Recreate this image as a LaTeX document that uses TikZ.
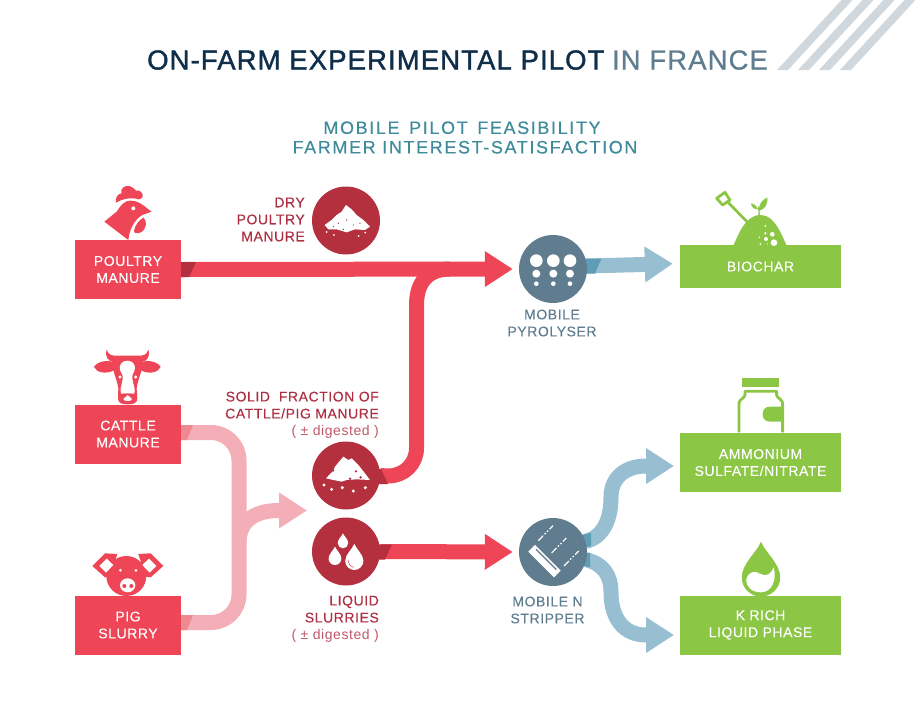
\documentclass[tikz,border=0pt]{standalone}
\usepackage{fontspec}
\setmainfont{Liberation Sans}
\newfontfamily\titlefont[LetterSpace=4,FakeBold=1.4]{Liberation Sans}
\newfontfamily\plainfont[LetterSpace=4]{Liberation Sans}
\newfontfamily\fadefont[LetterSpace=4,FakeBold=0.7]{Liberation Sans}
\newfontfamily\subfont[LetterSpace=9,FakeBold=0.4]{Liberation Sans}
\newfontfamily\boxfont[LetterSpace=4,FakeBold=0.15]{Liberation Sans}
\definecolor{farmnavy}{RGB}{15, 46, 74}
\definecolor{farmslate}{RGB}{96, 125, 144}
\definecolor{farmteal}{RGB}{62, 140, 154}
\definecolor{hatchgrey}{RGB}{208, 216, 222}
\definecolor{boxred}{RGB}{238, 69, 87}
\definecolor{deepred}{RGB}{181, 48, 63}
\definecolor{softred}{RGB}{244, 174, 183}
\definecolor{softdark}{RGB}{238, 138, 143}
\definecolor{labelred}{RGB}{174, 46, 66}
\definecolor{boxgreen}{RGB}{140, 198, 69}
\definecolor{pipeblue}{RGB}{152, 191, 209}
\definecolor{pipedark}{RGB}{95, 157, 182}
\usepackage{tikz}
\usetikzlibrary{arrows.meta, backgrounds}
\newcommand{\dropshape}{(0,0) .. controls (0.08,0.2) and (0.35,0.4) .. (0.35,0.65) .. controls (0.35,0.85) and (0.18,1) .. (0,1) .. controls (-0.18,1) and (-0.35,0.85) .. (-0.35,0.65) .. controls (-0.35,0.4) and (-0.08,0.2) .. (0,0) -- cycle}
\tikzset{
  sourcebox/.style={fill=boxred, text=white, minimum width=106pt, minimum height=59pt, inner sep=0pt, align=center, font=\boxfont\fontsize{14}{17}\selectfont},
  productbox/.style={fill=boxgreen, text=white, minimum width=161pt, inner sep=0pt, align=center, font=\boxfont\fontsize{14}{17}\selectfont},
  redcircle/.style={circle, fill=deepred, minimum size=68pt, inner sep=0pt},
  slatecircle/.style={circle, fill=farmslate, minimum size=68pt, inner sep=0pt},
  redlabel/.style={text=labelred, inner sep=0pt, align=right, font=\boxfont\fontsize{14}{17}\selectfont},
  slatelabel/.style={text=farmslate, inner sep=0pt, align=center, font=\boxfont\fontsize{14}{17}\selectfont},
  redpipe/.style={draw=boxred, line width=15pt},
  softpipe/.style={draw=softred, line width=15pt},
  bluepipe/.style={draw=pipeblue, line width=15pt},
  bigtip/.style={-{Triangle[length=28pt,width=34pt]}},
}

\begin{document}
\begin{tikzpicture}[x=1pt, y=-1pt]
  \useasboundingbox (0,0) rectangle (915,726);

  % Heading
  \foreach \x in {777, 798, 819, 840} {
    \fill[hatchgrey] (\x,70) -- (\x+64.5,0) -- (\x+75.5,0) -- (\x+11,70) -- cycle;
  }
  \node[anchor=base west, inner sep=0pt, font=\fontsize{27.5}{32}\selectfont] (heading) at (147,69.5) {{\titlefont\color{farmnavy}ON-FARM EXPERIMENTAL PILOT} {\fadefont\color{farmslate}IN FRANCE}};
  \node[text=farmteal, inner sep=0pt, align=center, font=\subfont\fontsize{18}{19.5}\selectfont] (subheading) at (465,137.5) {MOBILE\kern3pt{} PILOT\kern3pt{} FEASIBILITY\kern6pt\\FARMER INTEREST-SATISFACTION};

  % Sources
  \node[sourcebox] (poultry) at (128,269.5) {POULTRY\\MANURE};
  \node[sourcebox] (cattle) at (128,434) {CATTLE\\MANURE};
  \node[sourcebox] (pig) at (128,625) {PIG\\SLURRY};

  % Products
  \node[productbox, minimum height=43pt] (biochar) at (760.5,266.5) {BIOCHAR};
  \node[productbox, minimum height=59pt] (ammonium) at (760.5,462.5) {AMMONIUM\\SULFATE/NITRATE};
  \node[productbox, minimum height=59pt] (krich) at (760.5,625) {K RICH\\LIQUID PHASE};

  % Fractions and machines
  \node[redcircle] (dry) at (346,220.5) {};
  \node[redcircle] (solid) at (346,475.5) {};
  \node[redcircle] (liquid) at (346,551.5) {};
  \node[slatecircle] (pyrolyser) at (553,269) {};
  \node[slatecircle] (stripper) at (553,552) {};

  % Labels
  \node[redlabel, anchor=east] (drylabel) at (305,219.5) {DRY\\POULTRY\\MANURE};
  \node[redlabel, anchor=east] (solidlabel) at (379,415) {SOLID\ \ FRACTION OF\\CATTLE/PIG MANURE\\{\color{labelred!80}\plainfont ( ± digested )}};
  \node[redlabel, anchor=east] (liquidlabel) at (379,619) {LIQUID\\SLURRIES\\{\color{labelred!80}\plainfont ( ± digested )}};
  \node[slatelabel] (pyrolyserlabel) at (552,323) {MOBILE\\PYROLYSER};
  \node[slatelabel] (stripperlabel) at (547.5,610) {MOBILE N\\STRIPPER};

  % Named ends of the pipes
  \coordinate (softfork) at (239,540);
  \coordinate (softend) at (307,510.5);
  \coordinate (redjoin) at (450,269);

  \begin{scope}[on background layer]
    \draw[softpipe, rounded corners=28pt] ([yshift=1.5pt]cattle.east) -- (239,432.5) -- (239,622.5) -- ([yshift=2.5pt]pig.east);
    \draw[softpipe, bigtip] (softfork) .. controls (240,525) and (250,510.5) .. (279,510.5) -- (softend);
    \draw[redpipe] (solid.east) -- (388,476) .. controls (404,476) and (416.5,464) .. (416.5,448) -- (416.5,305) .. controls (416.5,282) and (428,269) .. (redjoin);
    \draw[redpipe, bigtip, shorten >=6pt] (poultry.east) -- (pyrolyser.west);
    \draw[redpipe, bigtip, shorten >=6pt] (liquid.east) -- (stripper.west);
    \draw[bluepipe, bigtip, shorten >=7pt] ([yshift=3pt]pyrolyser.east) -- ([yshift=3pt]biochar.west);
    \draw[bluepipe, bigtip] (stripper.18) .. controls (603,537) and (611,520) .. (611,497) .. controls (611,478) and (625,466) .. (646,466) -- (674,466);
    \draw[bluepipe, bigtip] (stripper.-13) .. controls (603,564) and (611,575) .. (611,592) .. controls (611,620) and (625,635) .. (646,635) -- (674,635);

    % Darker pipe starts
    \foreach \x/\y/\wt/\wb/\col in {181/262/15/8/deepred, 181/425/12/6/softdark, 181/615/12/6/softdark, 372/544.5/20/13/deepred} {
      \fill[\col] (\x,\y) -- ++(\wt,0) -- (\x+\wb,\y+15) -- (\x,\y+15) -- cycle;
    }
    \fill[deepred] (372,469) -- (381,469) -- (388,484) -- (372,484) -- cycle;
    \fill[pipedark] (580,258.5) -- (601.5,258.5) -- (595,273.5) -- (580,273.5) -- cycle;
    \fill[pipedark] (575,536) -- (591,533) -- (591,546) -- (575,550) -- cycle;
    \fill[pipedark] (575,551) -- (590,553) -- (590,567) -- (575,565) -- cycle;
  \end{scope}

  % Hen
  \begin{scope}[shift={(60,170)}, scale=0.3333]
    \fill[boxred] (168,98) .. controls (165,85) and (172,72) .. (184,70) .. controls (180,55) and (195,45) .. (208,48) .. controls (218,50) and (224,58) .. (228,62) .. controls (240,58) and (250,70) .. (248,80) .. controls (246,88) and (238,90) .. (228,86) .. controls (205,82) and (185,88) .. (168,98) -- cycle;
    \fill[boxred] (275,125) .. controls (255,112) and (240,92) .. (212,92) .. controls (190,92) and (180,110) .. (170,125) -- (133,155) -- (205,210) .. controls (208,180) and (222,150) .. (247,135) -- cycle;
    \fill[boxred] (250,143) .. controls (262,150) and (262,180) .. (240,188) .. controls (225,192) and (220,188) .. (222,182) .. controls (226,165) and (235,152) .. (250,143) -- cycle;
    \fill[white] (220,115) circle (6);
  \end{scope}

  % Cow
  \begin{scope}[shift={(90,345)}, scale=0.3333]
    \fill[boxred] (50,14) .. controls (55,30) and (65,32) .. (80,32) -- (146,32) .. controls (160,32) and (170,30) .. (175,14) .. controls (182,35) and (170,48) .. (158,50) -- (158,62) .. controls (152,90) and (142,110) .. (140,130) -- (142,160) .. controls (142,175) and (130,178) .. (113,178) .. controls (96,178) and (84,175) .. (84,160) -- (85,130) .. controls (83,110) and (72,90) .. (67,62) -- (67,50) .. controls (55,48) and (44,35) .. (50,14) -- cycle;
    \fill[boxred] (12,66) .. controls (22,48) and (55,44) .. (72,52) -- (72,76) .. controls (50,88) and (20,84) .. (12,66) -- cycle;
    \fill[boxred] (212,66) .. controls (202,48) and (170,44) .. (153,52) -- (153,76) .. controls (175,88) and (204,84) .. (212,66) -- cycle;
    \fill[white] (112,47) .. controls (130,47) and (138,62) .. (134,75) .. controls (131,85) and (126,88) .. (127,100) .. controls (128,118) and (138,130) .. (133,146) -- (93,146) .. controls (88,130) and (97,118) .. (98,100) .. controls (99,88) and (94,85) .. (90,75) .. controls (86,62) and (94,47) .. (112,47) -- cycle;
    \fill[white] (90,96) circle (5) (137,96) circle (5);
    \fill[boxred] (100,146) -- (126,146) -- (121,153) -- (105,153) -- cycle;
    \fill[white] (113,150) -- (126,162) .. controls (128,170) and (98,170) .. (100,162) -- cycle;
  \end{scope}

  % Pig
  \begin{scope}[shift={(60,400)}, scale=0.3333]
    \fill[boxred] (199,528) circle (60);
    \fill[boxred] (97,498) -- (135,460) -- (172,462) -- (150,530) -- (135,532) -- cycle;
    \fill[boxred] (310,498) -- (272,460) -- (235,462) -- (257,530) -- (272,532) -- cycle;
    \fill[white] (118,498) -- (140,476) -- (160,495) -- (138,518) -- cycle;
    \fill[white] (289,498) -- (267,476) -- (247,495) -- (269,518) -- cycle;
    \fill[white] (181,511) circle (4.5) (228,511) circle (4.5);
    \fill[white] (203,556) ellipse (23 and 21);
    \fill[boxred] (193,558) circle (6) (214,558) circle (6);
  \end{scope}

  % Dry manure pile
  \begin{scope}[shift={(60,170)}, scale=0.3333]
    \fill[white] (794,165) -- (815,150) -- (830,135) -- (845,125) -- (858,105) -- (875,118) -- (890,135) -- (910,150) -- (930,170) -- (915,180) -- (885,178) -- (860,187) -- (830,178) -- (805,178) -- cycle;
    \foreach \x/\y in {835/160, 860/150, 880/165, 850/178, 900/160, 820/170} {
      \fill[deepred] (\x,\y) circle (2);
    }
    \fill[white] (800,186) circle (3) (822,195) circle (3) (896,198) circle (3) (916,188) circle (3);
  \end{scope}

  % Solid fraction pile
  \begin{scope}[shift={(300,430)}, scale=0.3333]
    \fill[white] (78,145) -- (100,122) -- (105,110) -- (130,80) -- (145,90) -- (155,85) -- (175,105) -- (195,130) -- (210,150) -- (170,148) -- (140,150) -- (125,155) -- (100,150) -- cycle;
    \fill[deepred] (100,122) circle (3) (168,124) circle (4) (182,142) circle (4) (150,146) circle (4);
    \fill[white] (72,165) circle (5) (95,178) circle (5) (127,173) circle (5) (160,183) circle (5) (196,173) circle (5);
  \end{scope}

  % Slurry droplets
  \begin{scope}[shift={(60,400)}, scale=0.3333]
    \foreach \x/\y/\s in {849/400/45, 825/440/55, 883/432/78} {
      \begin{scope}[shift={(\x,\y)}, scale=\s]
        \fill[white] \dropshape;
      \end{scope}
    }
    \draw[deepred, line width=0.4pt] (864,478) .. controls (864,492) and (872,500) .. (882,502);
  \end{scope}

  % Pyrolyser dots
  \begin{scope}[shift={(480,180)}, scale=0.3333]
    \foreach \x in {169, 220, 270} {
      \fill[white] (\x,242) circle (19);
      \fill[white] (\x,281) circle (12);
      \fill[white] (\x,311) circle (7);
    }
  \end{scope}

  % Stripper bar
  \begin{scope}[shift={(490,370)}, scale=0.3333]
    \draw[white, line width=9.5pt] (125,535) -- (202,612);
    \draw[farmslate, line width=1.3pt] (138,538) -- (199,599);
    \foreach \x/\y in {145/512, 185/549, 222/588} {
      \draw[white, line width=1.2pt, dash pattern=on 7pt off 2pt on 1.5pt off 2pt on 1.5pt off 2pt] (\x,\y) -- ++(44,-45);
    }
  \end{scope}

  % Spade and heap
  \begin{scope}[shift={(480,180)}, scale=0.3333]
    \fill[boxgreen] (760,197) .. controls (775,165) and (795,105) .. (842,105) .. controls (885,105) and (905,165) .. (920,197) -- cycle;
    \draw[boxgreen, line width=2.8pt, line join=round] (710,55) -- (735,37) -- (750,60) -- (728,75) -- cycle;
    \draw[boxgreen, line width=2.8pt] (745,68) -- (806,130);
    \draw[boxgreen, line width=1.3pt] (838,108) -- (836,80);
    \fill[boxgreen] (838,92) .. controls (835,70) and (848,60) .. (862,52) .. controls (865,72) and (855,88) .. (838,92) -- cycle;
    \fill[boxgreen] (834,88) .. controls (830,78) and (824,72) .. (813,70) .. controls (814,82) and (822,88) .. (834,88) -- cycle;
    \fill[white] (882,188) circle (10) (877,163) circle (7) (858,177) circle (6) (856,160) circle (4) (856,138) circle (3) (841,192) circle (3) (862,192) circle (2) (838,172) circle (2.5);
  \end{scope}

  % Jar
  \begin{scope}[shift={(490,370)}, scale=0.3333]
    \fill[boxgreen] (757,25) rectangle (866,52);
    \draw[boxgreen, line width=2.8pt, line join=round] (747,187) -- (747,100) .. controls (747,88) and (765,84) .. (765,75) -- (765,64) -- (860,64) -- (860,75) .. controls (860,84) and (878,88) .. (878,100) -- (878,187);
    \fill[boxgreen] (880,110) -- (840,110) .. controls (825,110) and (818,120) .. (818,132) .. controls (818,145) and (825,155) .. (840,155) -- (880,155) -- cycle;
  \end{scope}

  % Liquid drop
  \begin{scope}[shift={(490,370)}, scale=0.3333]
    \begin{scope}[shift={(813,515)}, scale=165]
      \fill[boxgreen] \dropshape;
    \end{scope}
    \fill[white] (769,628) .. controls (775,605) and (795,600) .. (812,612) .. controls (830,622) and (845,610) .. (851,592) .. controls (862,630) and (845,667) .. (813,667) .. controls (785,667) and (768,650) .. (769,628) -- cycle;
  \end{scope}
\end{tikzpicture}
\end{document}
